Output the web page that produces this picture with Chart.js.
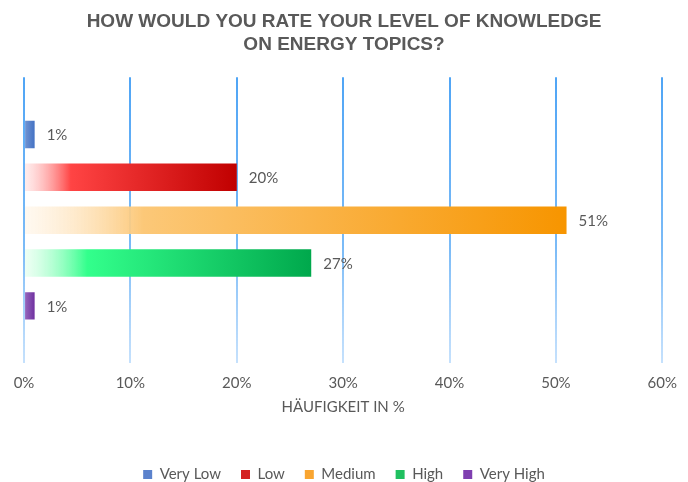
<!DOCTYPE html>
<html>
<head>
<meta charset="utf-8">
<script src="https://cdn.jsdelivr.net/npm/chart.js@4"></script>
<style>
  html, body { margin: 0; padding: 0; background: #fff; }
  #wrap { width: 688px; height: 482px; position: relative; }
</style>
</head>
<body>
<div id="wrap"><canvas id="knowledgeChart"></canvas></div>
<script>
const categories = ['Very Low', 'Low', 'Medium', 'High', 'Very High'];
const shares = [1, 20, 51, 27, 1];
const tickLabels = ['0%', '10%', '20%', '30%', '40%', '50%', '60%'];

// gradient stops per bar: start (light), middle (bright), end (full colour)
const barColors = [
  ['#9db4e0', '#6a8fd0', '#4472c4'],
  ['rgba(255,200,200,0.3)', '#ff4444', '#c00000'],
  ['rgba(255,240,220,0.4)', '#fcc878', '#f79500'],
  ['rgba(200,255,220,0.3)', '#33ff8c', '#00a84c'],
  ['#b08acb', '#9060b8', '#7030a0']
];
const legendColors = ['#5b82cc', '#d42020', '#f9a530', '#20c060', '#7f3fb0'];

const textGrey = '#595959';
const font = 'Lato, "Open Sans", sans-serif';

function barGradient(context, i) {
  const chart = context.chart;
  const x = chart.scales.x;
  if (!chart.chartArea || !x) return barColors[i][2];
  const x0 = x.getPixelForValue(0);
  const x1 = x.getPixelForValue(shares[i]);
  const g = chart.ctx.createLinearGradient(x0, 0, x1, 0);
  g.addColorStop(0, barColors[i][0]);
  g.addColorStop(0.22, barColors[i][1]);
  g.addColorStop(1, barColors[i][2]);
  return g;
}

function gridGradient(context) {
  const chart = context.chart;
  const area = chart.chartArea;
  if (!area) return '#6fb2f5';
  const g = chart.ctx.createLinearGradient(0, area.top, 0, area.bottom);
  g.addColorStop(0, 'rgba(70,160,245,0.95)');
  g.addColorStop(0.6, 'rgba(90,170,245,0.8)');
  g.addColorStop(1, 'rgba(140,195,250,0.5)');
  return g;
}

const valueLabels = {
  id: 'valueLabels',
  afterDatasetsDraw(chart) {
    const ctx = chart.ctx;
    ctx.save();
    ctx.font = '15px ' + font;
    ctx.fillStyle = textGrey;
    ctx.textBaseline = 'middle';
    chart.data.datasets.forEach((ds, i) => {
      const bar = chart.getDatasetMeta(i).data[0];
      ctx.fillText(ds.data[0] + '%', bar.x + 12, bar.y + 1);
    });
    ctx.restore();
  }
};

const datasets = categories.map((name, i) => ({
  label: name,
  data: [shares[i]],
  backgroundColor: (c) => barGradient(c, i),
  borderWidth: 0,
  categoryPercentage: 0.75,
  barPercentage: 0.64
}));

new Chart(document.getElementById('knowledgeChart'), {
  type: 'bar',
  data: { labels: [''], datasets: datasets },
  options: {
    indexAxis: 'y',
    responsive: true,
    maintainAspectRatio: false,
    animation: false,
    layout: { padding: { left: 24, right: 24, top: 10, bottom: -10 } },
    scales: {
      x: {
        min: 0,
        max: 60,
        border: { display: false },
        grid: { color: gridGradient, lineWidth: 2, drawTicks: false },
        ticks: {
          stepSize: 10,
          padding: 11,
          color: textGrey,
          font: { family: font, size: 15 },
          callback: (v, idx) => tickLabels[idx]
        },
        title: {
          display: true,
          text: 'HÄUFIGKEIT IN %',
          color: textGrey,
          font: { family: font, size: 15 },
          padding: { top: -5, bottom: 31 }
        }
      },
      y: { display: false }
    },
    plugins: {
      title: {
        display: true,
        text: ['HOW WOULD YOU RATE YOUR LEVEL OF KNOWLEDGE', 'ON ENERGY TOPICS?'],
        color: textGrey,
        font: { family: '"Liberation Sans", Arial, sans-serif', size: 19, weight: 'bold', lineHeight: 1.22 },
        padding: { top: 0, bottom: 21 }
      },
      legend: {
        position: 'bottom',
        labels: {
          color: textGrey,
          font: { family: font, size: 15 },
          boxWidth: 9,
          boxHeight: 9,
          padding: 20,
          generateLabels: (chart) => categories.map((name, i) => ({
            text: name,
            fillStyle: legendColors[i],
            strokeStyle: legendColors[i],
            lineWidth: 0,
            datasetIndex: i,
            fontColor: textGrey
          }))
        }
      },
      tooltip: { enabled: false }
    }
  },
  plugins: [valueLabels]
});
</script>
</body>
</html>
